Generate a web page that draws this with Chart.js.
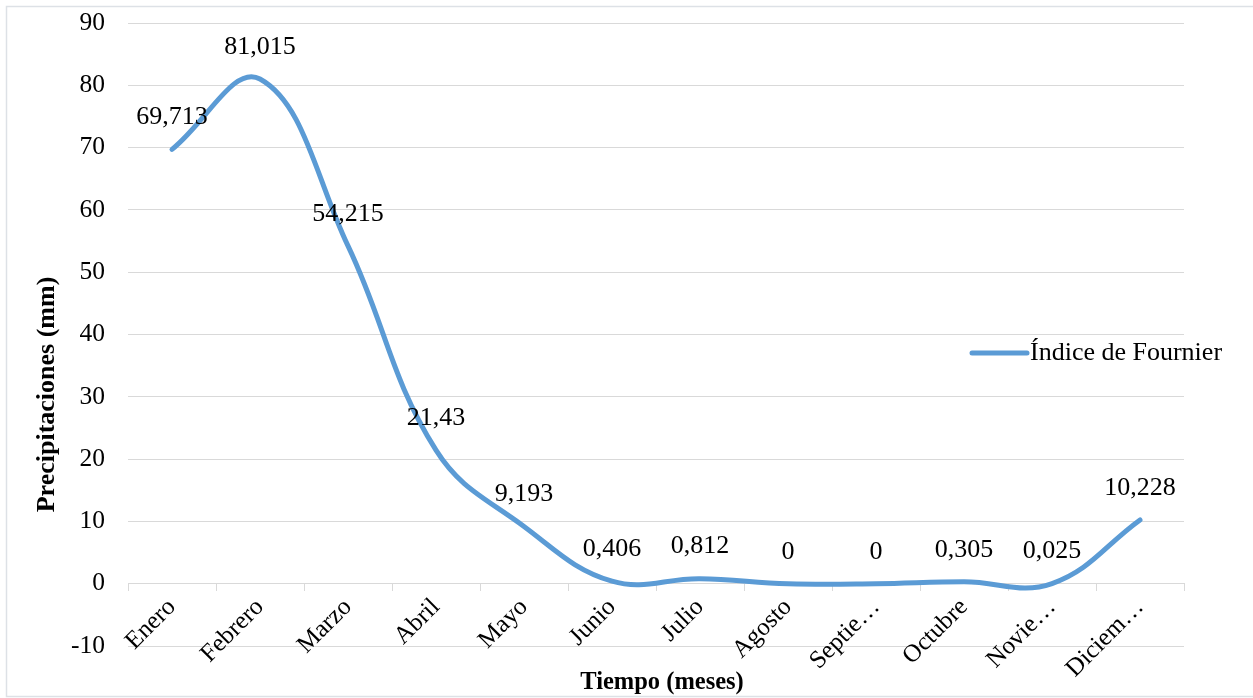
<!DOCTYPE html>
<html lang="es">
<head>
<meta charset="utf-8">
<title>Índice de Fournier</title>
<script src="https://cdn.jsdelivr.net/npm/chart.js@4/dist/chart.umd.min.js"></script>
<style>
  html, body { margin: 0; padding: 0; background: #ffffff; overflow: hidden; }
  #wrap { position: relative; width: 1253px; height: 698px; }
  canvas { display: block; }
</style>
</head>
<body>
<div id="wrap"><canvas id="chart" width="1253" height="698"></canvas></div>
<script>
// Monthly categories (labels as they appear on the axis)
const months = ["Enero", "Febrero", "Marzo", "Abril", "Mayo", "Junio", "Julio",
                "Agosto", "Septie…", "Octubre", "Novie…", "Diciem…"];

// Índice de Fournier per month (mm)
const fournier = [69.713, 81.015, 54.215, 21.43, 9.193, 0.406, 0.812, 0, 0, 0.305, 0.025, 10.228];

// Value axis range
const yMin = -10;
const yMax = 90;
const yStep = 10;

const seriesName = "Índice de Fournier";
const xTitle = "Tiempo (meses)";
const yTitle = "Precipitaciones (mm)";

const SERIF = "'Liberation Serif', 'Times New Roman', serif";
const LINE_COLOR = "#5B9BD5";
const GRID_COLOR = "#d9d9d9";

// Outer frame around the whole chart
const framePlugin = {
  id: "frame",
  beforeDraw(chart) {
    const ctx = chart.ctx;
    ctx.save();
    ctx.fillStyle = "#ffffff";
    ctx.fillRect(0, 0, chart.width, chart.height);
    ctx.strokeStyle = "#dde1e6";
    ctx.lineWidth = 1.5;
    ctx.strokeRect(6.5, 6.5, chart.width + 20, chart.height - 8);
    ctx.restore();
  }
};

// Axis titles: value title rotated on the left, category title under the axis
const axisTitlePlugin = {
  id: "axisTitles",
  afterDraw(chart) {
    const ctx = chart.ctx;
    const area = chart.chartArea;
    ctx.save();
    ctx.fillStyle = "#000000";
    ctx.textAlign = "center";
    ctx.textBaseline = "middle";
    ctx.font = "bold 24.5px " + SERIF;
    ctx.fillText(xTitle, (area.left + area.right) / 2 + 6, chart.height - 15);
    ctx.font = "bold 26px " + SERIF;
    ctx.translate(47, (area.top + area.bottom) / 2 + 60);
    ctx.rotate(-Math.PI / 2);
    ctx.fillText(yTitle, 0, 0);
    ctx.restore();
  }
};

// Value labels above every point, Spanish decimal comma
const valueLabelPlugin = {
  id: "valueLabels",
  afterDatasetsDraw(chart) {
    const ctx = chart.ctx;
    const meta = chart.getDatasetMeta(0);
    const data = chart.data.datasets[0].data;
    ctx.save();
    ctx.font = "26px " + SERIF;
    ctx.fillStyle = "#000000";
    ctx.textAlign = "center";
    ctx.textBaseline = "middle";
    meta.data.forEach((pt, i) => {
      const txt = String(data[i]).replace(".", ",");
      ctx.fillText(txt, pt.x, pt.y - 32);
    });
    ctx.restore();
  }
};

// Legend entry drawn inside the plot, right side
const legendPlugin = {
  id: "insideLegend",
  afterDraw(chart) {
    const ctx = chart.ctx;
    const ds = chart.data.datasets[0];
    const x0 = chart.width - 281;
    const y0 = 353;
    ctx.save();
    ctx.strokeStyle = ds.borderColor;
    ctx.lineWidth = 5;
    ctx.lineCap = "round";
    ctx.beginPath();
    ctx.moveTo(x0, y0);
    ctx.lineTo(x0 + 55, y0);
    ctx.stroke();
    ctx.font = "26px " + SERIF;
    ctx.fillStyle = "#000000";
    ctx.textAlign = "left";
    ctx.textBaseline = "middle";
    ctx.fillText(ds.label, x0 + 58, y0);
    ctx.restore();
  }
};

new Chart(document.getElementById("chart"), {
  type: "line",
  data: {
    labels: months,
    datasets: [{
      label: seriesName,
      data: fournier,
      borderColor: LINE_COLOR,
      backgroundColor: LINE_COLOR,
      borderWidth: 5,
      borderCapStyle: "round",
      borderJoinStyle: "round",
      pointRadius: 0,
      pointHoverRadius: 0,
      tension: 0.4,
      fill: false
    }]
  },
  options: {
    responsive: false,
    animation: false,
    events: [],
    layout: { padding: { left: 31, top: 23, right: 69, bottom: 52 } },
    plugins: {
      legend: { display: false },
      tooltip: { enabled: false },
      title: { display: false }
    },
    scales: {
      x: {
        type: "category",
        position: { y: 0 },
        offset: true,
        afterFit(scale) { scale.paddingLeft = 0; scale.paddingRight = 0; },
        grid: {
          display: true,
          drawOnChartArea: false,
          drawTicks: true,
          tickLength: 7,
          color: GRID_COLOR,
          offset: true
        },
        border: { display: true, color: GRID_COLOR, width: 1 },
        ticks: {
          autoSkip: false,
          minRotation: 45,
          maxRotation: 45,
          padding: 2,
          color: "#000000",
          font: { family: SERIF, size: 25 }
        },
        title: { display: false }
      },
      y: {
        min: yMin,
        max: yMax,
        afterFit(scale) {
          scale.width = 97;
          scale.paddingTop = 0;
          scale.paddingBottom = 0;
        },
        grid: {
          color: GRID_COLOR,
          drawTicks: false
        },
        border: { display: false },
        ticks: {
          stepSize: yStep,
          padding: 23,
          color: "#000000",
          font: { family: SERIF, size: 25.5 },
          callback: (v) => String(v)
        },
        title: { display: false }
      }
    }
  },
  plugins: [framePlugin, valueLabelPlugin, legendPlugin, axisTitlePlugin]
});
</script>
</body>
</html>
